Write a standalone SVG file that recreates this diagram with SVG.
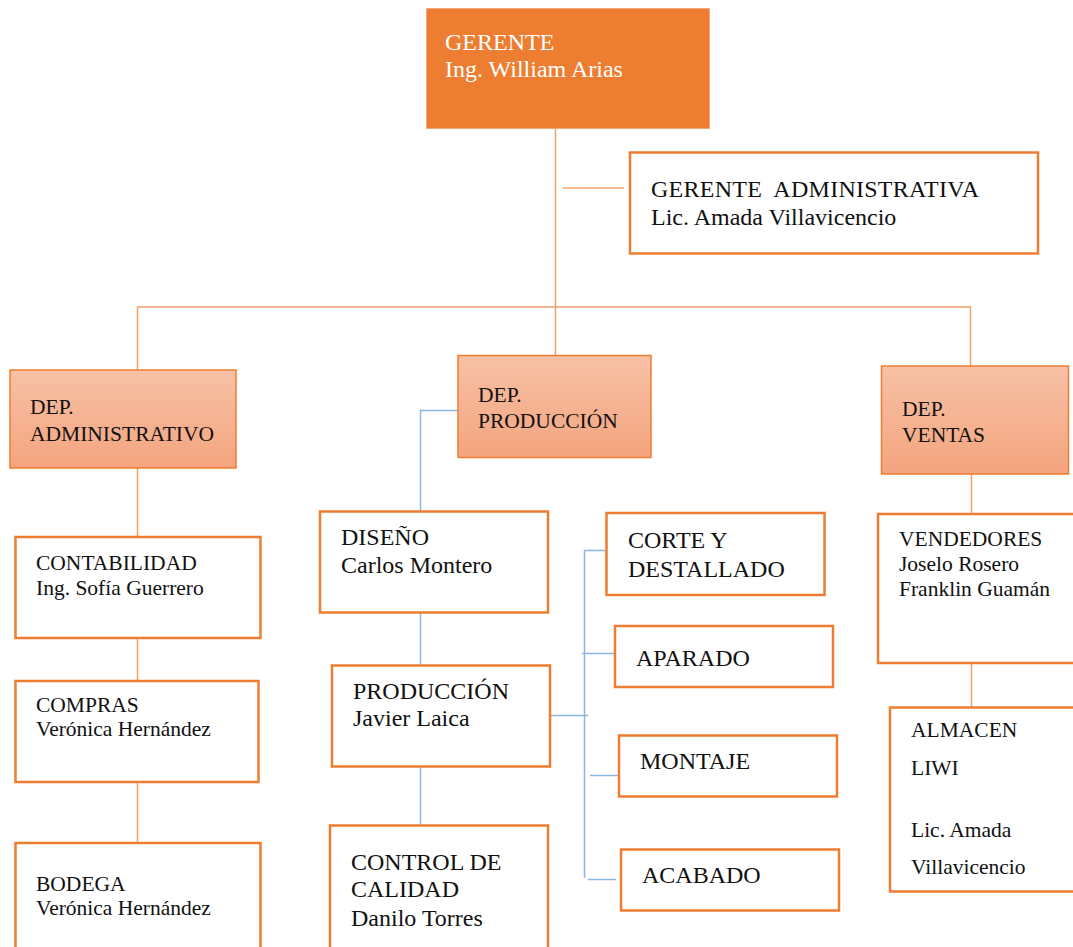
<svg xmlns="http://www.w3.org/2000/svg" width="1073" height="947" viewBox="0 0 1073 947">
  <defs>
    <linearGradient id="depFill" x1="0" y1="0" x2="0" y2="1">
      <stop offset="0" stop-color="#F7C1A6"/>
      <stop offset="1" stop-color="#F4A47E"/>
    </linearGradient>
  </defs>
  <style>
    text { font-family: "Liberation Serif", "Times New Roman", serif; fill: #111; }
    .lg { font-size: 24px; }
    .md { font-size: 21.5px; }
    .white { fill: #ffffff; }
    .box { fill: #ffffff; stroke: #ED7D31; stroke-width: 2.5; }
    .dep { fill: url(#depFill); stroke: #ED7D31; stroke-width: 1.5; }
    .top { fill: #ED7D31; stroke: #F3A877; stroke-width: 1; }
    .ln-o { stroke: #F3A16B; stroke-width: 1.5; fill: none; }
    .ln-b { stroke: #8DB6E2; stroke-width: 1.5; fill: none; }
  </style>

  <!-- connectors -->
  <g id="connectors">
    <!-- top level -->
    <line class="ln-o" x1="555.5" y1="129" x2="555.5" y2="355"/>
    <line class="ln-o" x1="563" y1="188" x2="624" y2="188"/>
    <line class="ln-o" x1="137" y1="307" x2="971" y2="307"/>
    <line class="ln-o" x1="137.5" y1="307" x2="137.5" y2="370"/>
    <line class="ln-o" x1="970.5" y1="307" x2="970.5" y2="366"/>
    <!-- administrative column -->
    <line class="ln-o" x1="137.5" y1="468" x2="137.5" y2="537"/>
    <line class="ln-o" x1="137.5" y1="638" x2="137.5" y2="681"/>
    <line class="ln-o" x1="137.5" y1="782" x2="137.5" y2="843"/>
    <!-- sales column -->
    <line class="ln-o" x1="971.5" y1="474" x2="971.5" y2="514"/>
    <line class="ln-o" x1="971.5" y1="663" x2="971.5" y2="707"/>
    <!-- production column -->
    <polyline class="ln-b" points="458,410.5 420.5,410.5 420.5,511"/>
    <line class="ln-b" x1="420.5" y1="613" x2="420.5" y2="665"/>
    <line class="ln-b" x1="420.5" y1="767" x2="420.5" y2="825"/>
    <polyline class="ln-b" points="609,550.5 584.5,550.5 584.5,878"/>
    <line class="ln-b" x1="582" y1="653.5" x2="618" y2="653.5"/>
    <line class="ln-b" x1="551" y1="715.5" x2="588" y2="715.5"/>
    <line class="ln-b" x1="590" y1="775.5" x2="618" y2="775.5"/>
    <line class="ln-b" x1="588" y1="879.5" x2="616" y2="879.5"/>
  </g>

  <g id="gerente">
    <rect class="top" x="426.5" y="8.5" width="283" height="120"/>
    <text class="lg white" x="445" y="50">GERENTE</text>
    <text class="lg white" x="445" y="77">Ing. William Arias</text>
  </g>

  <g id="gerente-administrativa">
    <rect class="box" x="630" y="152.5" width="408" height="101"/>
    <text class="lg" x="651" y="197" xml:space="preserve" textLength="328">GERENTE  ADMINISTRATIVA</text>
    <text class="lg" x="651" y="225">Lic. Amada Villavicencio</text>
  </g>

  <g id="dep-administrativo">
    <rect class="dep" x="10" y="370" width="226" height="98"/>
    <text class="md" x="30" y="414">DEP.</text>
    <text class="md" x="30" y="441" textLength="184">ADMINISTRATIVO</text>
  </g>

  <g id="dep-produccion">
    <rect class="dep" x="458" y="355.5" width="193" height="102"/>
    <text class="md" x="478" y="402">DEP.</text>
    <text class="md" x="478" y="428">PRODUCCIÓN</text>
  </g>

  <g id="dep-ventas">
    <rect class="dep" x="881.5" y="366" width="187" height="108"/>
    <text class="md" x="902" y="416">DEP.</text>
    <text class="md" x="902" y="442">VENTAS</text>
  </g>

  <g id="contabilidad">
    <rect class="box" x="15.5" y="537" width="245" height="101"/>
    <text class="md" x="36" y="570">CONTABILIDAD</text>
    <text class="md" x="36" y="595">Ing. Sofía Guerrero</text>
  </g>

  <g id="compras">
    <rect class="box" x="15.5" y="681" width="243" height="101"/>
    <text class="md" x="36" y="712">COMPRAS</text>
    <text class="md" x="36" y="736">Verónica Hernández</text>
  </g>

  <g id="bodega">
    <rect class="box" x="15.5" y="843" width="245" height="120"/>
    <text class="md" x="36" y="891">BODEGA</text>
    <text class="md" x="36" y="915">Verónica Hernández</text>
  </g>

  <g id="diseno">
    <rect class="box" x="320" y="511.5" width="228" height="101"/>
    <text class="lg" x="341" y="545">DISEÑO</text>
    <text class="lg" x="341" y="573">Carlos Montero</text>
  </g>

  <g id="produccion">
    <rect class="box" x="332" y="665.5" width="218" height="101"/>
    <text class="lg" x="353" y="699">PRODUCCIÓN</text>
    <text class="lg" x="353" y="726">Javier Laica</text>
  </g>

  <g id="control-calidad">
    <rect class="box" x="330" y="825.5" width="218" height="140"/>
    <text class="lg" x="351" y="870">CONTROL DE</text>
    <text class="lg" x="351" y="897">CALIDAD</text>
    <text class="lg" x="351" y="926">Danilo Torres</text>
  </g>

  <g id="corte-destallado">
    <rect class="box" x="606.5" y="513" width="218" height="82"/>
    <text class="lg" x="628" y="548">CORTE Y</text>
    <text class="lg" x="628" y="577">DESTALLADO</text>
  </g>

  <g id="aparado">
    <rect class="box" x="615" y="626" width="218" height="61"/>
    <text class="lg" x="636" y="666">APARADO</text>
  </g>

  <g id="montaje">
    <rect class="box" x="619" y="735.5" width="218" height="61"/>
    <text class="lg" x="640" y="769">MONTAJE</text>
  </g>

  <g id="acabado">
    <rect class="box" x="621" y="849.5" width="218" height="61"/>
    <text class="lg" x="642" y="883">ACABADO</text>
  </g>

  <g id="vendedores">
    <rect class="box" x="878" y="514" width="210" height="149"/>
    <text class="md" x="899" y="546">VENDEDORES</text>
    <text class="md" x="899" y="571">Joselo Rosero</text>
    <text class="md" x="899" y="596">Franklin Guamán</text>
  </g>

  <g id="almacen">
    <rect class="box" x="890" y="707.5" width="200" height="184"/>
    <text class="md" x="911" y="737">ALMACEN</text>
    <text class="md" x="911" y="775">LIWI</text>
    <text class="md" x="911" y="837">Lic. Amada</text>
    <text class="md" x="911" y="874">Villavicencio</text>
  </g>
</svg>
